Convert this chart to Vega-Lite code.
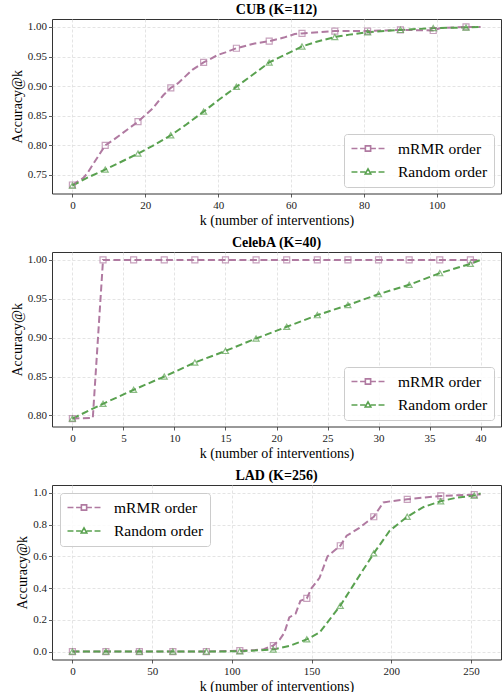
{
  "$schema": "https://vega.github.io/schema/vega-lite/v6.json",
  "padding": {"left": 9, "top": 2, "right": 0, "bottom": 0},
  "background": "white",
  "datasets": {
    "cub": [
      {"series": "mRMR order", "k": 0, "acc": 0.733},
      {"series": "mRMR order", "k": 3, "acc": 0.745},
      {"series": "mRMR order", "k": 4, "acc": 0.752},
      {"series": "mRMR order", "k": 9, "acc": 0.800},
      {"series": "mRMR order", "k": 11, "acc": 0.808},
      {"series": "mRMR order", "k": 18, "acc": 0.840},
      {"series": "mRMR order", "k": 22, "acc": 0.862},
      {"series": "mRMR order", "k": 25, "acc": 0.885},
      {"series": "mRMR order", "k": 27, "acc": 0.897},
      {"series": "mRMR order", "k": 29, "acc": 0.905},
      {"series": "mRMR order", "k": 33, "acc": 0.928},
      {"series": "mRMR order", "k": 36, "acc": 0.940},
      {"series": "mRMR order", "k": 40, "acc": 0.953},
      {"series": "mRMR order", "k": 42, "acc": 0.957},
      {"series": "mRMR order", "k": 45, "acc": 0.964},
      {"series": "mRMR order", "k": 50, "acc": 0.972},
      {"series": "mRMR order", "k": 54, "acc": 0.976},
      {"series": "mRMR order", "k": 58, "acc": 0.982},
      {"series": "mRMR order", "k": 61, "acc": 0.988},
      {"series": "mRMR order", "k": 63, "acc": 0.989},
      {"series": "mRMR order", "k": 72, "acc": 0.993},
      {"series": "mRMR order", "k": 81, "acc": 0.993},
      {"series": "mRMR order", "k": 90, "acc": 0.995},
      {"series": "mRMR order", "k": 99, "acc": 0.994},
      {"series": "mRMR order", "k": 101, "acc": 0.998},
      {"series": "mRMR order", "k": 108, "acc": 1.0},
      {"series": "mRMR order", "k": 112, "acc": 1.0},
      {"series": "Random order", "k": 0, "acc": 0.732},
      {"series": "Random order", "k": 4, "acc": 0.745},
      {"series": "Random order", "k": 9, "acc": 0.759},
      {"series": "Random order", "k": 13, "acc": 0.771},
      {"series": "Random order", "k": 18, "acc": 0.786},
      {"series": "Random order", "k": 22, "acc": 0.799},
      {"series": "Random order", "k": 27, "acc": 0.817},
      {"series": "Random order", "k": 31, "acc": 0.834},
      {"series": "Random order", "k": 36, "acc": 0.857},
      {"series": "Random order", "k": 40, "acc": 0.876},
      {"series": "Random order", "k": 45, "acc": 0.899},
      {"series": "Random order", "k": 49, "acc": 0.917},
      {"series": "Random order", "k": 54, "acc": 0.940},
      {"series": "Random order", "k": 58, "acc": 0.952},
      {"series": "Random order", "k": 63, "acc": 0.967},
      {"series": "Random order", "k": 67, "acc": 0.975},
      {"series": "Random order", "k": 72, "acc": 0.983},
      {"series": "Random order", "k": 76, "acc": 0.987},
      {"series": "Random order", "k": 81, "acc": 0.991},
      {"series": "Random order", "k": 90, "acc": 0.995},
      {"series": "Random order", "k": 99, "acc": 0.998},
      {"series": "Random order", "k": 108, "acc": 0.999},
      {"series": "Random order", "k": 112, "acc": 1.0}
    ],
    "celeba": [
      {"series": "mRMR order", "k": 0, "acc": 0.796},
      {"series": "mRMR order", "k": 2, "acc": 0.797},
      {"series": "mRMR order", "k": 3, "acc": 1.0},
      {"series": "mRMR order", "k": 6, "acc": 1.0},
      {"series": "mRMR order", "k": 9, "acc": 1.0},
      {"series": "mRMR order", "k": 12, "acc": 1.0},
      {"series": "mRMR order", "k": 15, "acc": 1.0},
      {"series": "mRMR order", "k": 18, "acc": 1.0},
      {"series": "mRMR order", "k": 21, "acc": 1.0},
      {"series": "mRMR order", "k": 24, "acc": 1.0},
      {"series": "mRMR order", "k": 27, "acc": 1.0},
      {"series": "mRMR order", "k": 30, "acc": 1.0},
      {"series": "mRMR order", "k": 33, "acc": 1.0},
      {"series": "mRMR order", "k": 36, "acc": 1.0},
      {"series": "mRMR order", "k": 39, "acc": 1.0},
      {"series": "mRMR order", "k": 40, "acc": 1.0},
      {"series": "Random order", "k": 0, "acc": 0.796},
      {"series": "Random order", "k": 3, "acc": 0.815},
      {"series": "Random order", "k": 6, "acc": 0.833},
      {"series": "Random order", "k": 9, "acc": 0.850},
      {"series": "Random order", "k": 12, "acc": 0.868},
      {"series": "Random order", "k": 15, "acc": 0.883},
      {"series": "Random order", "k": 18, "acc": 0.899},
      {"series": "Random order", "k": 21, "acc": 0.914},
      {"series": "Random order", "k": 24, "acc": 0.929},
      {"series": "Random order", "k": 27, "acc": 0.942},
      {"series": "Random order", "k": 30, "acc": 0.956},
      {"series": "Random order", "k": 33, "acc": 0.968},
      {"series": "Random order", "k": 36, "acc": 0.983},
      {"series": "Random order", "k": 39, "acc": 0.995},
      {"series": "Random order", "k": 40, "acc": 1.0}
    ],
    "lad": [
      {"series": "mRMR order", "k": 0, "acc": 0.0},
      {"series": "mRMR order", "k": 21, "acc": 0.0},
      {"series": "mRMR order", "k": 42, "acc": 0.0},
      {"series": "mRMR order", "k": 63, "acc": 0.0},
      {"series": "mRMR order", "k": 84, "acc": 0.0},
      {"series": "mRMR order", "k": 105, "acc": 0.006},
      {"series": "mRMR order", "k": 115, "acc": 0.010},
      {"series": "mRMR order", "k": 120, "acc": 0.015},
      {"series": "mRMR order", "k": 126, "acc": 0.038},
      {"series": "mRMR order", "k": 130, "acc": 0.075},
      {"series": "mRMR order", "k": 133, "acc": 0.12},
      {"series": "mRMR order", "k": 136, "acc": 0.215},
      {"series": "mRMR order", "k": 140, "acc": 0.24},
      {"series": "mRMR order", "k": 143, "acc": 0.32},
      {"series": "mRMR order", "k": 147, "acc": 0.335},
      {"series": "mRMR order", "k": 150, "acc": 0.40},
      {"series": "mRMR order", "k": 155, "acc": 0.465},
      {"series": "mRMR order", "k": 160, "acc": 0.60},
      {"series": "mRMR order", "k": 168, "acc": 0.667},
      {"series": "mRMR order", "k": 172, "acc": 0.73},
      {"series": "mRMR order", "k": 180, "acc": 0.78},
      {"series": "mRMR order", "k": 189, "acc": 0.85},
      {"series": "mRMR order", "k": 195, "acc": 0.94},
      {"series": "mRMR order", "k": 200, "acc": 0.948},
      {"series": "mRMR order", "k": 210, "acc": 0.96},
      {"series": "mRMR order", "k": 231, "acc": 0.981},
      {"series": "mRMR order", "k": 252, "acc": 0.989},
      {"series": "mRMR order", "k": 256, "acc": 0.99},
      {"series": "Random order", "k": 0, "acc": 0.0},
      {"series": "Random order", "k": 21, "acc": 0.0},
      {"series": "Random order", "k": 42, "acc": 0.0},
      {"series": "Random order", "k": 63, "acc": 0.0},
      {"series": "Random order", "k": 84, "acc": 0.0},
      {"series": "Random order", "k": 105, "acc": 0.002},
      {"series": "Random order", "k": 126, "acc": 0.013},
      {"series": "Random order", "k": 136, "acc": 0.035},
      {"series": "Random order", "k": 147, "acc": 0.077},
      {"series": "Random order", "k": 155, "acc": 0.12},
      {"series": "Random order", "k": 168, "acc": 0.289},
      {"series": "Random order", "k": 178, "acc": 0.447},
      {"series": "Random order", "k": 189, "acc": 0.619},
      {"series": "Random order", "k": 199, "acc": 0.762},
      {"series": "Random order", "k": 210, "acc": 0.85},
      {"series": "Random order", "k": 220, "acc": 0.91},
      {"series": "Random order", "k": 231, "acc": 0.948},
      {"series": "Random order", "k": 241, "acc": 0.97},
      {"series": "Random order", "k": 252, "acc": 0.983},
      {"series": "Random order", "k": 256, "acc": 0.997}
    ]
  },
  "vconcat": [
    {
      "title": "CUB (K=112)",
      "width": 449,
      "height": 174.5,
      "data": {"name": "cub"},
      "encoding": {
        "x": {"field": "k", "type": "quantitative", "title": "k (number of interventions)",
              "scale": {"domain": [-5.6, 117.6], "nice": false, "zero": false},
              "axis": {"values": [0, 20, 40, 60, 80, 100]}},
        "y": {"field": "acc", "type": "quantitative", "title": "Accuracy@k",
              "scale": {"domain": [0.7186, 1.0134], "nice": false, "zero": false},
              "axis": {"values": [0.75, 0.8, 0.85, 0.9, 0.95, 1.0], "format": ".2f"}},
        "color": {"field": "series", "type": "nominal",
                  "scale": {"domain": ["mRMR order", "Random order"], "range": ["#b07aa1", "#59a14f"]},
                  "legend": {"title": null, "orient": "bottom-right", "offset": 7}}
      },
      "layer": [
        {"mark": {"type": "line", "strokeDash": [7, 3.5], "strokeWidth": 2}},
        {"transform": [{"filter": "datum.k % 9 === 0 && datum.series === 'mRMR order'"}],
         "mark": {"type": "point", "shape": "square", "filled": false, "size": 36, "strokeWidth": 1.2, "opacity": 0.7}},
        {"transform": [{"filter": "datum.k % 9 === 0 && datum.series === 'Random order'"}],
         "mark": {"type": "point", "shape": "triangle-up", "filled": false, "size": 36, "strokeWidth": 1.2, "opacity": 0.7}},
        {"transform": [{"filter": "false"}],
         "mark": {"type": "point", "filled": false},
         "encoding": {"shape": {"field": "series", "type": "nominal",
                                "scale": {"domain": ["mRMR order", "Random order"],
                                          "range": ["M-2.357,0H-1.508M-1.131,0H-0.377M0.377,0H1.131M1.508,0H2.357M-0.377,-0.377H0.377V0.377H-0.377Z", "M-2.357,0H-1.508M-1.131,0H-0.377M0.377,0H1.131M1.508,0H2.357M0,-0.45L0.4,0.28H-0.4Z"]},
                                "legend": {"title": null, "orient": "bottom-right", "offset": 7}}}}
      ]
    },
    {
      "title": "CelebA (K=40)",
      "width": 449,
      "height": 174.5,
      "data": {"name": "celeba"},
      "encoding": {
        "x": {"field": "k", "type": "quantitative", "title": "k (number of interventions)",
              "scale": {"domain": [-2, 42], "nice": false, "zero": false},
              "axis": {"values": [0, 5, 10, 15, 20, 25, 30, 35, 40]}},
        "y": {"field": "acc", "type": "quantitative", "title": "Accuracy@k",
              "scale": {"domain": [0.7858, 1.0102], "nice": false, "zero": false},
              "axis": {"values": [0.8, 0.85, 0.9, 0.95, 1.0], "format": ".2f"}},
        "color": {"field": "series", "type": "nominal",
                  "scale": {"domain": ["mRMR order", "Random order"], "range": ["#b07aa1", "#59a14f"]},
                  "legend": {"title": null, "orient": "bottom-right", "offset": 7}}
      },
      "layer": [
        {"mark": {"type": "line", "strokeDash": [7, 3.5], "strokeWidth": 2}},
        {"transform": [{"filter": "datum.k % 3 === 0 && datum.series === 'mRMR order'"}],
         "mark": {"type": "point", "shape": "square", "filled": false, "size": 36, "strokeWidth": 1.2, "opacity": 0.7}},
        {"transform": [{"filter": "datum.k % 3 === 0 && datum.series === 'Random order'"}],
         "mark": {"type": "point", "shape": "triangle-up", "filled": false, "size": 36, "strokeWidth": 1.2, "opacity": 0.7}},
        {"transform": [{"filter": "false"}],
         "mark": {"type": "point", "filled": false},
         "encoding": {"shape": {"field": "series", "type": "nominal",
                                "scale": {"domain": ["mRMR order", "Random order"],
                                          "range": ["M-2.357,0H-1.508M-1.131,0H-0.377M0.377,0H1.131M1.508,0H2.357M-0.377,-0.377H0.377V0.377H-0.377Z", "M-2.357,0H-1.508M-1.131,0H-0.377M0.377,0H1.131M1.508,0H2.357M0,-0.45L0.4,0.28H-0.4Z"]},
                                "legend": {"title": null, "orient": "bottom-right", "offset": 7}}}}
      ]
    },
    {
      "title": "LAD (K=256)",
      "width": 449,
      "height": 174.5,
      "data": {"name": "lad"},
      "encoding": {
        "x": {"field": "k", "type": "quantitative", "title": "k (number of interventions)",
              "scale": {"domain": [-12.8, 268.8], "nice": false, "zero": false},
              "axis": {"values": [0, 50, 100, 150, 200, 250]}},
        "y": {"field": "acc", "type": "quantitative", "title": "Accuracy@k",
              "scale": {"domain": [-0.05, 1.05], "nice": false, "zero": false},
              "axis": {"values": [0, 0.2, 0.4, 0.6, 0.8, 1.0], "format": ".1f"}},
        "color": {"field": "series", "type": "nominal",
                  "scale": {"domain": ["mRMR order", "Random order"], "range": ["#b07aa1", "#59a14f"]},
                  "legend": {"title": null, "orient": "top-left", "offset": 8}}
      },
      "layer": [
        {"mark": {"type": "line", "strokeDash": [7, 3.5], "strokeWidth": 2}},
        {"transform": [{"filter": "datum.k % 21 === 0 && datum.series === 'mRMR order'"}],
         "mark": {"type": "point", "shape": "square", "filled": false, "size": 36, "strokeWidth": 1.2, "opacity": 0.7}},
        {"transform": [{"filter": "datum.k % 21 === 0 && datum.series === 'Random order'"}],
         "mark": {"type": "point", "shape": "triangle-up", "filled": false, "size": 36, "strokeWidth": 1.2, "opacity": 0.7}},
        {"transform": [{"filter": "false"}],
         "mark": {"type": "point", "filled": false},
         "encoding": {"shape": {"field": "series", "type": "nominal",
                                "scale": {"domain": ["mRMR order", "Random order"],
                                          "range": ["M-2.357,0H-1.508M-1.131,0H-0.377M0.377,0H1.131M1.508,0H2.357M-0.377,-0.377H0.377V0.377H-0.377Z", "M-2.357,0H-1.508M-1.131,0H-0.377M0.377,0H1.131M1.508,0H2.357M0,-0.45L0.4,0.28H-0.4Z"]},
                                "legend": {"title": null, "orient": "top-left", "offset": 8}}}}
      ]
    }
  ],
  "spacing": 58,
  "bounds": "flush",
  "resolve": {
    "scale": {"x": "independent", "y": "independent", "color": "independent", "shape": "independent"},
    "legend": {"color": "independent", "shape": "independent"}
  },
  "config": {
    "font": "Liberation Serif",
    "view": {"stroke": "#333333", "strokeWidth": 1},
    "axis": {
      "domain": false,
      "grid": true,
      "gridColor": "#dddddd",
      "gridDash": [3, 2],
      "gridWidth": 0.8,
      "tickColor": "#333333",
      "tickSize": 3.5,
      "tickWidth": 0.8,
      "labelFont": "Liberation Serif",
      "labelFontSize": 11,
      "labelColor": "#222222",
      "labelPadding": 2,
      "labelFlush": false,
      "titleFont": "Liberation Serif",
      "titleFontSize": 14,
      "titleFontWeight": "normal",
      "titleColor": "#000000",
      "titlePadding": 3
    },
    "title": {"font": "Liberation Serif", "fontSize": 14, "fontWeight": "bold", "color": "#000000", "offset": 2},
    "legend": {
      "labelFont": "Liberation Serif",
      "labelFontSize": 15.5,
      "labelColor": "#000000",
      "labelOffset": 22,
      "symbolOffset": 9.5,
      "symbolSize": 196,
      "symbolStrokeWidth": 1.6,
      "symbolFillColor": "white",
      "symbolOpacity": 1,
      "rowPadding": 6.5,
      "padding": 6.5,
      "strokeColor": "#cccccc",
      "fillColor": "rgba(255,255,255,0.85)",
      "cornerRadius": 3
    }
  }
}
